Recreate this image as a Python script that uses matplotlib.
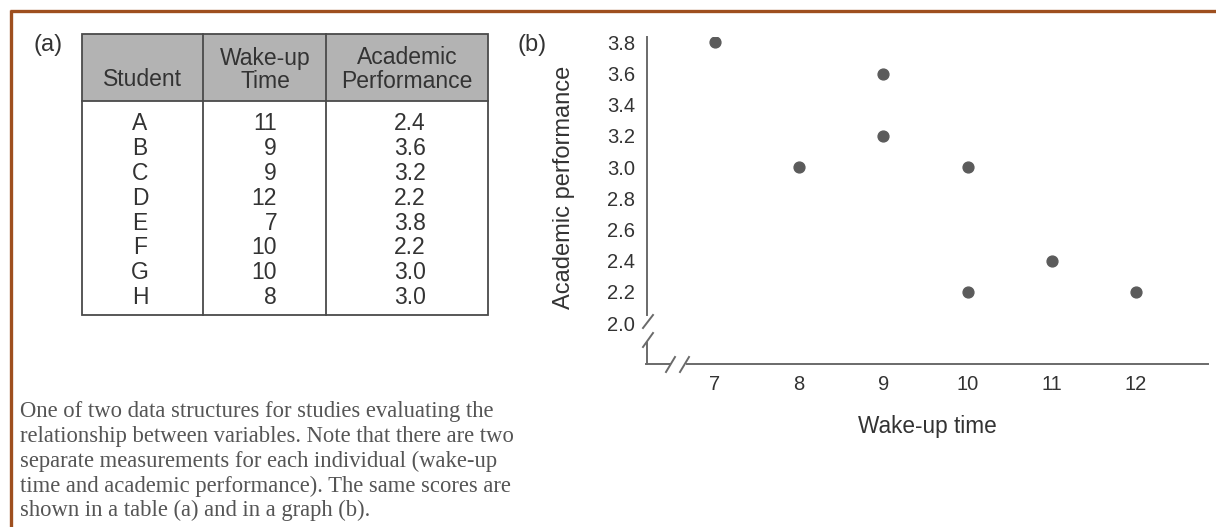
import matplotlib
matplotlib.use("Agg")
import matplotlib.pyplot as plt
from matplotlib.patches import Rectangle

# ---- data ----
students = ["A", "B", "C", "D", "E", "F", "G", "H"]
wake_up = [11, 9, 9, 12, 7, 10, 10, 8]
performance = [2.4, 3.6, 3.2, 2.2, 3.8, 2.2, 3.0, 3.0]
col_headers = ["Student", "Wake-up\nTime", "Academic\nPerformance"]
x_ticks = [7, 8, 9, 10, 11, 12]
y_ticks = [2.0, 2.2, 2.4, 2.6, 2.8, 3.0, 3.2, 3.4, 3.6, 3.8]
caption_lines = [
    "One of two data structures for studies evaluating the",
    "relationship between variables. Note that there are two",
    "separate measurements for each individual (wake-up",
    "time and academic performance). The same scores are",
    "shown in a table (a) and in a graph (b).",
]

W, H = 1216, 527
SANS = ["Liberation Sans", "DejaVu Sans"]
SERIF = ["Liberation Serif", "DejaVu Serif"]
TXT = "#333333"
BROWN = "#9e4f1f"

fig = plt.figure(figsize=(W / 100, H / 100), dpi=100)
fig.patch.set_facecolor("white")

# canvas axes in pixel coordinates (y downwards)
cv = fig.add_axes([0, 0, 1, 1])
cv.set_xlim(0, W)
cv.set_ylim(H, 0)
cv.axis("off")

# border (top and left)
cv.plot([10, W], [10.5, 10.5], color=BROWN, lw=2.4, solid_capstyle="butt")
cv.plot([10.5, 10.5], [10, H], color=BROWN, lw=2.4, solid_capstyle="butt")

# ---- table (a) ----
cv.text(48, 45, "(a)", family=SANS, fontsize=17, color=TXT, ha="center", va="center")
tx0, tx1, ty0, ty1, thead = 82, 488, 34, 315, 101
col_x = [82, 203, 326, 488]
cv.add_patch(Rectangle((tx0, ty0), tx1 - tx0, thead - ty0, facecolor="#b3b3b3",
                       edgecolor="none"))
lc, lw = "#4a4a4a", 1.3
cv.add_patch(Rectangle((tx0, ty0), tx1 - tx0, ty1 - ty0, facecolor="none",
                       edgecolor=lc, lw=lw))
for cx in col_x[1:-1]:
    cv.plot([cx, cx], [ty0, ty1], color=lc, lw=lw)
cv.plot([tx0, tx1], [thead, thead], color=lc, lw=lw)

hdr_centers = [142, 265, 407]
for hx, h in zip(hdr_centers, col_headers):
    parts = h.split("\n")
    if len(parts) == 1:
        cv.text(hx, 80, parts[0], family=SANS, fontsize=16.5, color=TXT,
                ha="center", va="center")
    else:
        cv.text(hx, 58, parts[0], family=SANS, fontsize=16.5, color=TXT,
                ha="center", va="center")
        cv.text(hx, 82, parts[1], family=SANS, fontsize=16.5, color=TXT,
                ha="center", va="center")

row_y0, row_dy = 124, 24.8
for i, (s, w, p) in enumerate(zip(students, wake_up, performance)):
    yy = row_y0 + i * row_dy
    cv.text(140, yy, s, family=SANS, fontsize=16.5, color=TXT, ha="center", va="center")
    cv.text(277, yy, f"{w}", family=SANS, fontsize=16.5, color=TXT, ha="right", va="center")
    cv.text(410, yy, f"{p:.1f}", family=SANS, fontsize=16.5, color=TXT, ha="center", va="center")

# caption
for i, line in enumerate(caption_lines):
    cv.text(20, 412 + i * 24.7, line, family=SERIF, fontsize=16.3, color="#555555",
            ha="left", va="center")

# ---- scatter (b) ----
cv.text(532, 45, "(b)", family=SANS, fontsize=17, color=TXT, ha="center", va="center")

ax_l, ax_r, ax_t, ax_b = 647, 1208, 37, 364
ax = fig.add_axes([ax_l / W, 1 - ax_b / H, (ax_r - ax_l) / W, (ax_b - ax_t) / H])
ax.set_facecolor("none")
ax.set_xlim(6.192, 12.855)
ax.set_ylim(1.737, 3.835)
for sp in ax.spines.values():
    sp.set_visible(False)
ax.plot(wake_up, performance, linestyle="none", marker="o", ms=7.8,
        color="#5b5b5b", mec="#5b5b5b")
ax.set_xticks(x_ticks)
ax.set_xticklabels([str(v) for v in x_ticks])
ax.set_yticks(y_ticks)
ax.set_yticklabels([f"{v:.1f}" for v in y_ticks])
ax.tick_params(axis="both", length=0, labelsize=14.5, labelcolor=TXT)
ax.tick_params(axis="y", pad=8.5)
ax.tick_params(axis="x", pad=8)
for lab in ax.get_xticklabels() + ax.get_yticklabels():
    lab.set_family(SANS)

ax.set_ylabel("Academic performance", family=SANS, fontsize=17, color=TXT)
ax.yaxis.set_label_coords((575 - ax_l) / (ax_r - ax_l), (ax_b - 187) / (ax_b - ax_t))
ax.set_xlabel("Wake-up time", family=SANS, fontsize=16.3, color=TXT)
ax.xaxis.set_label_coords((927 - ax_l) / (ax_r - ax_l), -(415 - ax_b) / (ax_b - ax_t))

# axis lines with breaks (pixel coordinates on canvas)
ac, aw = "#6a6a6a", 1.4
cv.plot([647, 647], [37, 315], color=ac, lw=aw)
cv.plot([647, 647], [343, 364], color=ac, lw=aw)
cv.plot([643, 653], [328, 315], color=ac, lw=aw)
cv.plot([643, 653], [347, 333], color=ac, lw=aw)
cv.plot([646.3, 670], [364, 364], color=ac, lw=aw)
cv.plot([687, 1208], [364, 364], color=ac, lw=aw)
cv.plot([666, 675], [372, 357], color=ac, lw=aw)
cv.plot([680, 689], [372, 357], color=ac, lw=aw)

fig.savefig("out.png", dpi=100)
